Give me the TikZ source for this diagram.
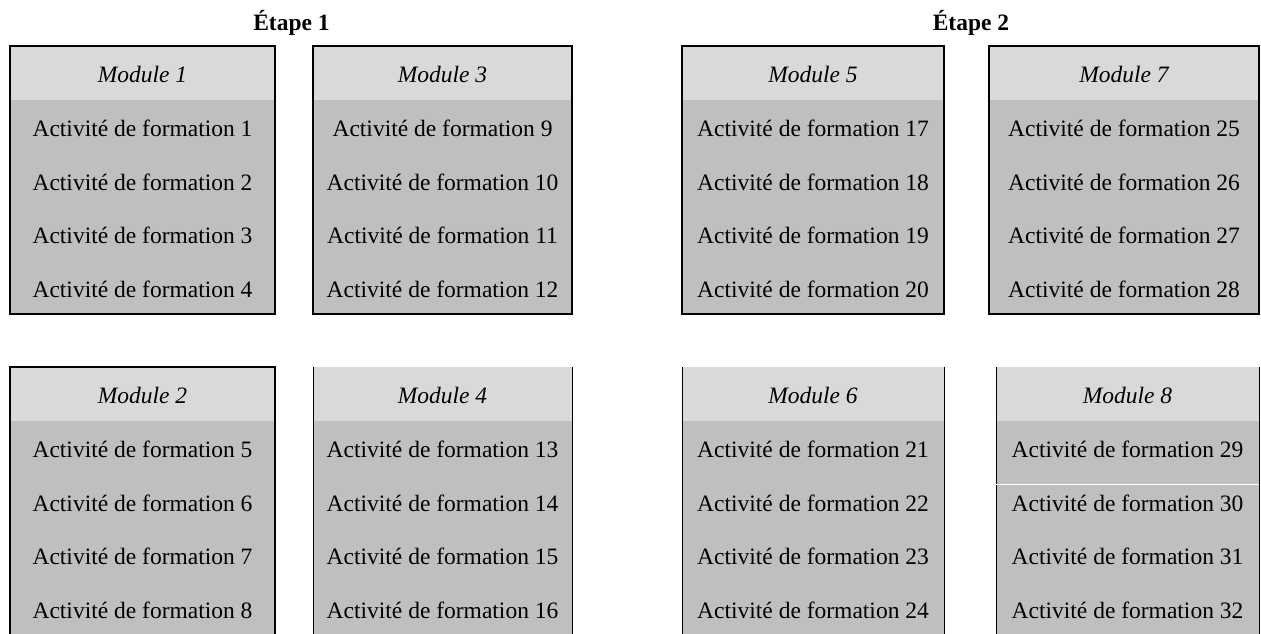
\documentclass[tikz,border=0pt]{standalone}
\usepackage{fontspec}
\setmainfont{Liberation Serif}
\definecolor{headfill}{HTML}{D9D9D9}
\definecolor{rowfill}{HTML}{BFBFBF}
\tikzset{
  cell/.style={inner sep=0pt, outer sep=0pt, anchor=north west, text=black,
    text height=19.5pt, text depth=0pt,
    font=\fontsize{23.5}{28}\selectfont},
  headcell/.style={cell, fill=headfill, font=\fontsize{23.5}{28}\selectfont\itshape},
  actcell/.style={cell, fill=rowfill},
  frame/.style={line width=1.6pt, black},
  thinside/.style={line width=1pt, black},
  steptitle/.style={font=\fontsize{23.5}{28}\selectfont\bfseries, inner sep=0pt, anchor=base}
}
% #1 name, #2 left edge, #3 right edge, #4 top edge, #5 module number, #6 first activity
\newcommand\moduleblock[6]{%
  \pgfmathsetmacro\mw{#3-#2}%
  \node[headcell, minimum width=\mw pt, minimum height=54pt] (#1h) at (#2,#4) {Module #5};
  \foreach \k in {1,...,4}{%
    \pgfmathtruncatemacro\num{#6+\k-1}%
    \pgfmathsetmacro\yy{#4+54+(\k-1)*53.5}%
    \node[actcell, minimum width=\mw pt, minimum height=53.5pt] (#1r\k) at (#2,\yy)
      {Activit\'e de formation \num};
  }
}
\begin{document}
\begin{tikzpicture}[x=1pt, y=-1pt]
  \useasboundingbox (0,0) rectangle (1261,634);

  % stage titles
  \node[steptitle] (e1) at (291.5,31) {Étape 1};
  \node[steptitle] (e2) at (971,31) {Étape 2};

  % upper row of modules
  \moduleblock{m1}{10}{275}{46}{1}{1}
  \moduleblock{m3}{313}{572}{46}{3}{9}
  \moduleblock{m5}{682}{944}{46}{5}{17}
  \moduleblock{m7}{989}{1259}{46}{7}{25}

  % lower row of modules
  \moduleblock{m2}{10}{275}{367}{2}{5}
  \moduleblock{m4}{313}{572}{367}{4}{13}
  \moduleblock{m6}{682}{944}{367}{6}{21}
  \moduleblock{m8}{996}{1259}{367}{8}{29}

  % outlines
  \foreach \m in {m1,m3,m5,m7}{
    \draw[frame] (\m h.north west) rectangle (\m r4.south east);
  }
  \draw[frame] (m2r4.south west) -- (m2h.north west) -- (m2h.north east) -- (m2r4.south east);
  \foreach \m in {m4,m6,m8}{
    \draw[thinside] (\m h.north west) -- (\m r4.south west);
    \draw[thinside] (\m h.north east) -- (\m r4.south east);
  }
  % light rule inside module 8
  \draw[white, line width=1pt] ([yshift=-10pt]m8r1.south west) -- ([yshift=-10pt]m8r1.south east);
\end{tikzpicture}
\end{document}
